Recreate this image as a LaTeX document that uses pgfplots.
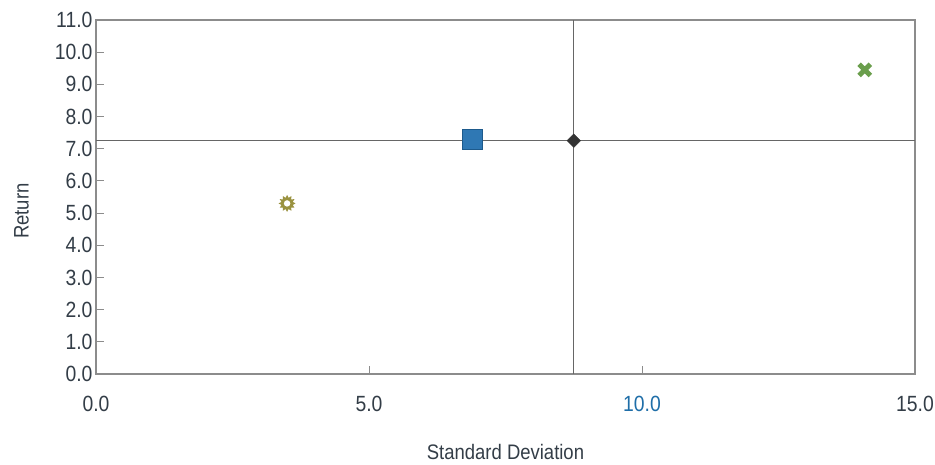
\documentclass[border=0pt]{standalone}
\usepackage{pgfplots}
\pgfplotsset{compat=1.18}
\usepackage{fontspec}
\setmainfont{Liberation Sans}[FakeStretch=0.88]

\definecolor{ticktext}{HTML}{333D47}
\definecolor{tenblue}{HTML}{1F6EA8}
\definecolor{boxgray}{HTML}{8C8C8C}
\definecolor{crossgray}{HTML}{666666}
\definecolor{sqfill}{HTML}{2F78B4}
\definecolor{sqdraw}{HTML}{1D5A8C}
\definecolor{sunolive}{HTML}{9A9240}
\definecolor{xgreen}{HTML}{6A9E4C}

% twelve-pointed sun with a white centre
\pgfdeclareplotmark{sun}{%
  \pgfpathmoveto{\pgfpointpolar{0}{\pgfplotmarksize}}%
  \pgfpathlineto{\pgfpointpolar{15}{0.68\pgfplotmarksize}}%
  \pgfpathlineto{\pgfpointpolar{30}{\pgfplotmarksize}}%
  \pgfpathlineto{\pgfpointpolar{45}{0.68\pgfplotmarksize}}%
  \pgfpathlineto{\pgfpointpolar{60}{\pgfplotmarksize}}%
  \pgfpathlineto{\pgfpointpolar{75}{0.68\pgfplotmarksize}}%
  \pgfpathlineto{\pgfpointpolar{90}{\pgfplotmarksize}}%
  \pgfpathlineto{\pgfpointpolar{105}{0.68\pgfplotmarksize}}%
  \pgfpathlineto{\pgfpointpolar{120}{\pgfplotmarksize}}%
  \pgfpathlineto{\pgfpointpolar{135}{0.68\pgfplotmarksize}}%
  \pgfpathlineto{\pgfpointpolar{150}{\pgfplotmarksize}}%
  \pgfpathlineto{\pgfpointpolar{165}{0.68\pgfplotmarksize}}%
  \pgfpathlineto{\pgfpointpolar{180}{\pgfplotmarksize}}%
  \pgfpathlineto{\pgfpointpolar{195}{0.68\pgfplotmarksize}}%
  \pgfpathlineto{\pgfpointpolar{210}{\pgfplotmarksize}}%
  \pgfpathlineto{\pgfpointpolar{225}{0.68\pgfplotmarksize}}%
  \pgfpathlineto{\pgfpointpolar{240}{\pgfplotmarksize}}%
  \pgfpathlineto{\pgfpointpolar{255}{0.68\pgfplotmarksize}}%
  \pgfpathlineto{\pgfpointpolar{270}{\pgfplotmarksize}}%
  \pgfpathlineto{\pgfpointpolar{285}{0.68\pgfplotmarksize}}%
  \pgfpathlineto{\pgfpointpolar{300}{\pgfplotmarksize}}%
  \pgfpathlineto{\pgfpointpolar{315}{0.68\pgfplotmarksize}}%
  \pgfpathlineto{\pgfpointpolar{330}{\pgfplotmarksize}}%
  \pgfpathlineto{\pgfpointpolar{345}{0.68\pgfplotmarksize}}%
  \pgfpathclose
  \pgfusepathqfill
  \pgfsetfillcolor{white}%
  \pgfpathcircle{\pgfpointorigin}{0.38\pgfplotmarksize}%
  \pgfusepathqfill
}

\begin{document}
\begin{tikzpicture}
\begin{axis}[
  scale only axis,
  width=819pt, height=354pt,
  xmin=0, xmax=15, ymin=0, ymax=11,
  xtick={0,5,10,15},
  xticklabels={0.0,5.0,\textcolor{tenblue}{10.0},15.0},
  ytick={0,1,...,11},
  yticklabel={\pgfmathprintnumber[fixed,fixed zerofill,precision=1]{\tick}},
  /pgf/number format/assume math mode=true,
  ticklabel style={font=\fontsize{22}{26}\selectfont, text=ticktext},
  xticklabel style={yshift=-19pt},
  tick pos=left,
  tick align=inside,
  major tick length=8pt,
  tick style={boxgray, line width=0.9pt},
  axis line style={boxgray, line width=1.3pt},
  xlabel={Standard Deviation},
  ylabel={Return},
  label style={font=\fontsize{21}{25}\selectfont, text=ticktext},
  xlabel style={at={(axis description cs:0.5,0)}, anchor=center, yshift=-78pt},
  ylabel style={at={(axis description cs:-0.091,0.46)}, anchor=center},
  clip=false,
]
% crosshair through the market point
\addplot[crossgray, line width=1.1pt, no markers] coordinates {(8.75,0) (8.75,11)};
\addplot[crossgray, line width=1.1pt, no markers] coordinates {(0,7.25) (15,7.25)};

% portfolios
\addplot[only marks, mark=sun, mark size=8.5pt, sunolive, fill=sunolive] coordinates {(3.5,5.3)};
\addplot[only marks, mark=square*, mark size=10pt, draw=sqdraw, fill=sqfill, line width=0.8pt] coordinates {(6.9,7.3)};
\addplot[only marks, mark=square*, mark size=4.8pt, mark options={rotate=45}, draw=black!80, fill=black!80] coordinates {(8.75,7.25)};
\addplot[only marks, mark=x, mark size=8pt, xgreen, line width=5pt] coordinates {(14.08,9.45)};
\end{axis}
\pgfresetboundingbox
\path (-96pt,-91pt) rectangle (839pt,374pt);
\end{tikzpicture}
\end{document}
